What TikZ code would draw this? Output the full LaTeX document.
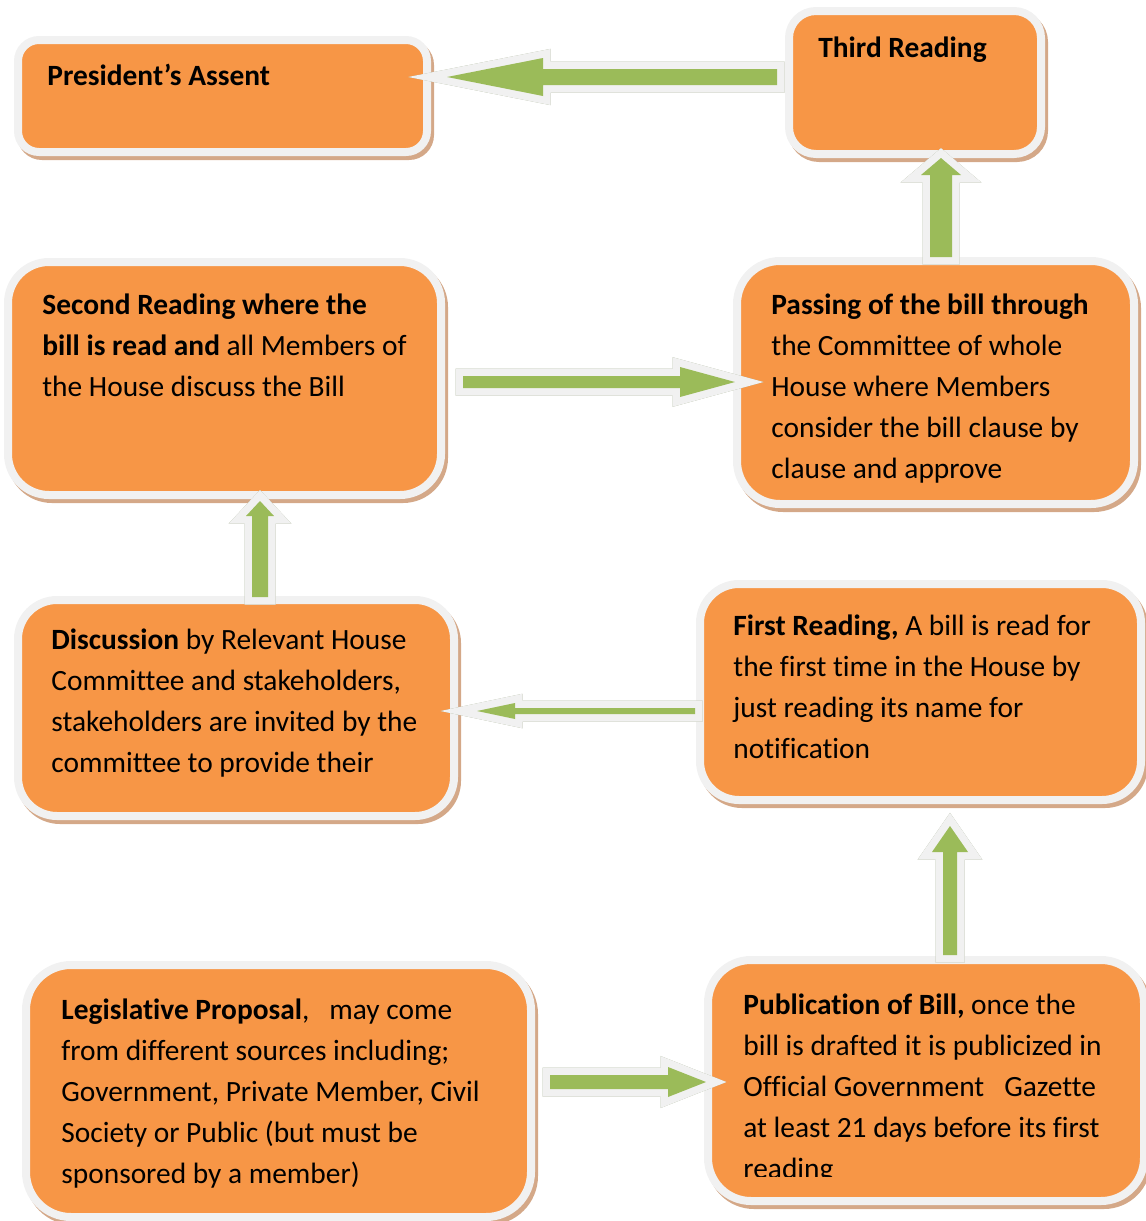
\documentclass[tikz,border=0pt]{standalone}
\usepackage{fontspec}
\setmainfont[Ligatures={CommonOff,ContextualOff}]{Carlito}
\usetikzlibrary{calc}
\definecolor{boxorange}{HTML}{F79646}
\definecolor{boxedge}{RGB}{241,241,241}
\definecolor{boxshade}{RGB}{212,168,136}
\definecolor{arrgreen}{HTML}{9BBB59}
\definecolor{arredgec}{RGB}{241,241,241}
\definecolor{arrshade}{RGB}{160,170,140}
\tikzset{
  box/.style={rectangle, fill=boxorange, draw=boxedge, line width=4pt, inner sep=0pt,
    preaction={fill=boxshade, draw=boxshade, line width=4pt, transform canvas={xshift=1.5pt,yshift=-2pt}}},
  txt/.style={anchor=base west, inner sep=0pt, align=left, text=black,
    font=\fontsize{14.7pt}{20.6pt}\selectfont},
  arrshadow/.style={fill=arrshade, draw=arrshade, line width=7.5pt, line join=miter, xshift=1.5pt, yshift=-2pt},
  arredge/.style={fill=arredgec, draw=arredgec, line width=7.5pt, line join=miter},
  arrbody/.style={fill=arrgreen},
}
% block arrow layer: style, tail, tip, shaft half width, head half width, head length (px)
\newcommand\barrowpath[6]{%
  \path[#1] let \p1=($(#3)-(#2)$), \n1={atan2(\y1,\x1)}, \n2={veclen(\x1,\y1)} in
    [shift={(#2)}, rotate=\n1]
    (0pt,{#4*0.5pt}) -- ({\n2*1pt-#6*0.5pt},{#4*0.5pt}) -- ({\n2*1pt-#6*0.5pt},{#5*0.5pt})
    -- ({\n2*1pt},0pt) -- ({\n2*1pt-#6*0.5pt},{-#5*0.5pt}) -- ({\n2*1pt-#6*0.5pt},{-#4*0.5pt})
    -- (0pt,{-#4*0.5pt}) -- cycle;}
\newcommand\barrow[5]{%
  \barrowpath{arrshadow}{#1}{#2}{#3}{#4}{#5}%
  \barrowpath{arredge}{#1}{#2}{#3}{#4}{#5}%
  \barrowpath{arrbody}{#1}{#2}{#3}{#4}{#5}}
\begin{document}
\begin{tikzpicture}[x=0.5pt,y=-0.5pt]
\useasboundingbox (0,0) rectangle (1146,1221);
% boxes
\node[box, minimum width=204.5pt, minimum height=56pt, rounded corners=10.5pt] (pres) at (222.5,96) {};
\node[box, minimum width=126pt, minimum height=71.5pt, rounded corners=13.5pt] (third) at (915,82.5) {};
\node[box, minimum width=216.5pt, minimum height=116.5pt, rounded corners=20.5pt] (second) at (224.5,378.5) {};
\node[box, minimum width=198.5pt, minimum height=121.5pt, rounded corners=21.5pt] (passing) at (935.5,382.5) {};
\node[box, minimum width=218pt, minimum height=108pt, rounded corners=19.5pt] (disc) at (236,708) {};
\node[box, minimum width=220.5pt, minimum height=108pt, rounded corners=19.5pt] (first) at (920.5,692) {};
\node[box, minimum width=252.5pt, minimum height=126pt, rounded corners=22.5pt] (legis) at (278.5,1091) {};
\node[box, minimum width=218pt, minimum height=120.5pt, rounded corners=21.5pt] (publ) at (926,1080.5) {};
% arrow end points
\coordinate (a1s) at (777,77);   \coordinate (a1e) at (447,77);
\coordinate (a2s) at (941,257);  \coordinate (a2e) at (941,158);
\coordinate (a3s) at (463,382);  \coordinate (a3e) at (735,382);
\coordinate (a4s) at (260,597);  \coordinate (a4e) at (260,501);
\coordinate (a5s) at (695,711);  \coordinate (a5e) at (477,711);
\coordinate (a6s) at (950,955);  \coordinate (a6e) at (950,826);
\coordinate (a7s) at (550,1082); \coordinate (a7e) at (706,1082);
\barrow{a1s}{a1e}{8}{19}{96}
\barrow{a2s}{a2e}{11}{20}{17}
\barrow{a3s}{a3e}{6}{15}{55}
\barrow{a4s}{a4e}{8}{14}{15}
\barrow{a5s}{a5e}{3}{8}{38}
\barrow{a6s}{a6e}{7}{18}{26}
\barrow{a7s}{a7e}{7}{15}{38}
% texts (anchored at the baseline of the last line)
\node[txt] (tpres) at (47,85) {\textbf{President’s Assent}};
\node[txt] (tthird) at (818,57) {\textbf{Third Reading}};
\node[txt] (tsecond) at (42,396.4) {\textbf{Second Reading where the}\\\textbf{bill is read and} all Members of\\the House discuss the Bill};
\node[txt] (tpass) at (771,478.8) {\textbf{Passing of the bill through}\\the Committee of whole\\House where Members\\consider the bill clause by\\clause and approve};
\node[txt] (tdisc) at (51,772.6) {\textbf{Discussion} by Relevant House\\Committee and stakeholders,\\stakeholders are invited by the\\committee to provide their};
\node[txt] (tfirst) at (733,758.6) {\textbf{First Reading,} A bill is read for\\the first time in the House by\\just reading its name for\\notification};
\node[txt] (tlegis) at (61,1183.8) {\textbf{Legislative Proposal},\hspace{10pt}may come\\from different sources including;\\Government, Private Member, Civil\\Society or Public (but must be\\sponsored by a member)};
\begin{scope}
\clip (700,950) rectangle (1146,1176);
\node[txt] (tpubl) at (743,1178.8) {\textbf{Publication of Bill,} once the\\bill is drafted it is publicized in\\Official Government\hspace{10pt}Gazette\\at least 21 days before its first\\reading};
\end{scope}
\end{tikzpicture}
\end{document}
